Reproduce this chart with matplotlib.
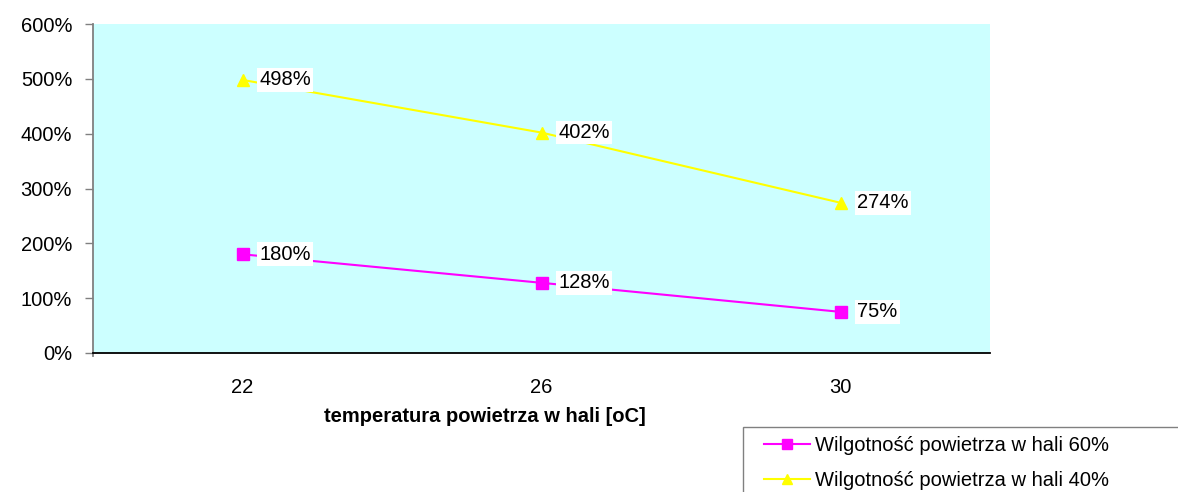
import numpy as np
import matplotlib.pyplot as plt
from matplotlib.patches import Rectangle

plt.rcParams['font.family'] = ['Liberation Sans', 'DejaVu Sans']

# Data
temperatures = ['22', '26', '30']
humidity_60 = [180, 128, 75]
humidity_40 = [498, 402, 274]
series_labels = ['Wilgotność powietrza w hali 60%', 'Wilgotność powietrza w hali 40%']
y_ticks = [0, 100, 200, 300, 400, 500, 600]

fs = 14.5
W, H = 1178, 492

fig = plt.figure(figsize=(W / 100, H / 100), dpi=100)
ax = fig.add_axes([93 / W, 1 - 353 / H, 897 / W, 329 / H])
ax.set_facecolor('#CCFFFF')

x = np.arange(len(temperatures))
l60, = ax.plot(x, humidity_60, color='#FF00FF', lw=1.5, marker='s', ms=8.5,
               mfc='#FF00FF', mec='#FF00FF', zorder=3)
l40, = ax.plot(x, humidity_40, color='#FFFF00', lw=1.5, marker='^', ms=9,
               mfc='#FFFF00', mec='#FFFF00', zorder=3)

# Data labels with white boxes to the right of the markers
for vals in (humidity_60, humidity_40):
    for xi, v in zip(x, vals):
        ax.annotate('{}%'.format(v), (xi, v), xytext=(12, 0), textcoords='offset points',
                    ha='left', va='center', fontsize=fs, zorder=4,
                    bbox=dict(boxstyle='square,pad=0.12', fc='white', ec='none'))

ax.set_xlim(-0.5, len(temperatures) - 0.5)
ax.set_ylim(0, 600)
ax.set_xticks(x)
ax.set_xticklabels(temperatures)
ax.set_yticks(y_ticks)
ax.set_yticklabels(['{}%'.format(t) for t in y_ticks])

ax.tick_params(axis='x', length=0, pad=18, labelsize=fs)
ax.tick_params(axis='y', length=6, width=1, color='#808080', pad=9, labelsize=fs, direction='out')

for side in ('top', 'right'):
    ax.spines[side].set_visible(False)
ax.spines['left'].set_color('#808080')
ax.spines['left'].set_linewidth(1.3)
ax.spines['left'].set_bounds(-3 * 600 / 329, 600)
ax.spines['bottom'].set_color('black')
ax.spines['bottom'].set_linewidth(1.3)

fig.text(485 / W, 1 - 416 / H, 'temperatura powietrza w hali [oC]',
         ha='center', va='center', fontsize=fs, fontweight='bold')

# Legend frame runs off the right and bottom edges like the reference
fig.patches.append(Rectangle((743 / W, -0.1), 0.5, 0.1 + (H - 427) / H,
                             transform=fig.transFigure, fc='white', ec='#808080',
                             lw=1.0, zorder=0))
leg = fig.legend([l60, l40], series_labels, loc='upper left',
                 bbox_to_anchor=(758 / W, 1 - 430 / H), fontsize=fs,
                 frameon=False, handlelength=2.3, handletextpad=0.25,
                 borderpad=0.3, labelspacing=0.8, borderaxespad=0, markerscale=0.8)

fig.savefig('out.png', dpi=100)
